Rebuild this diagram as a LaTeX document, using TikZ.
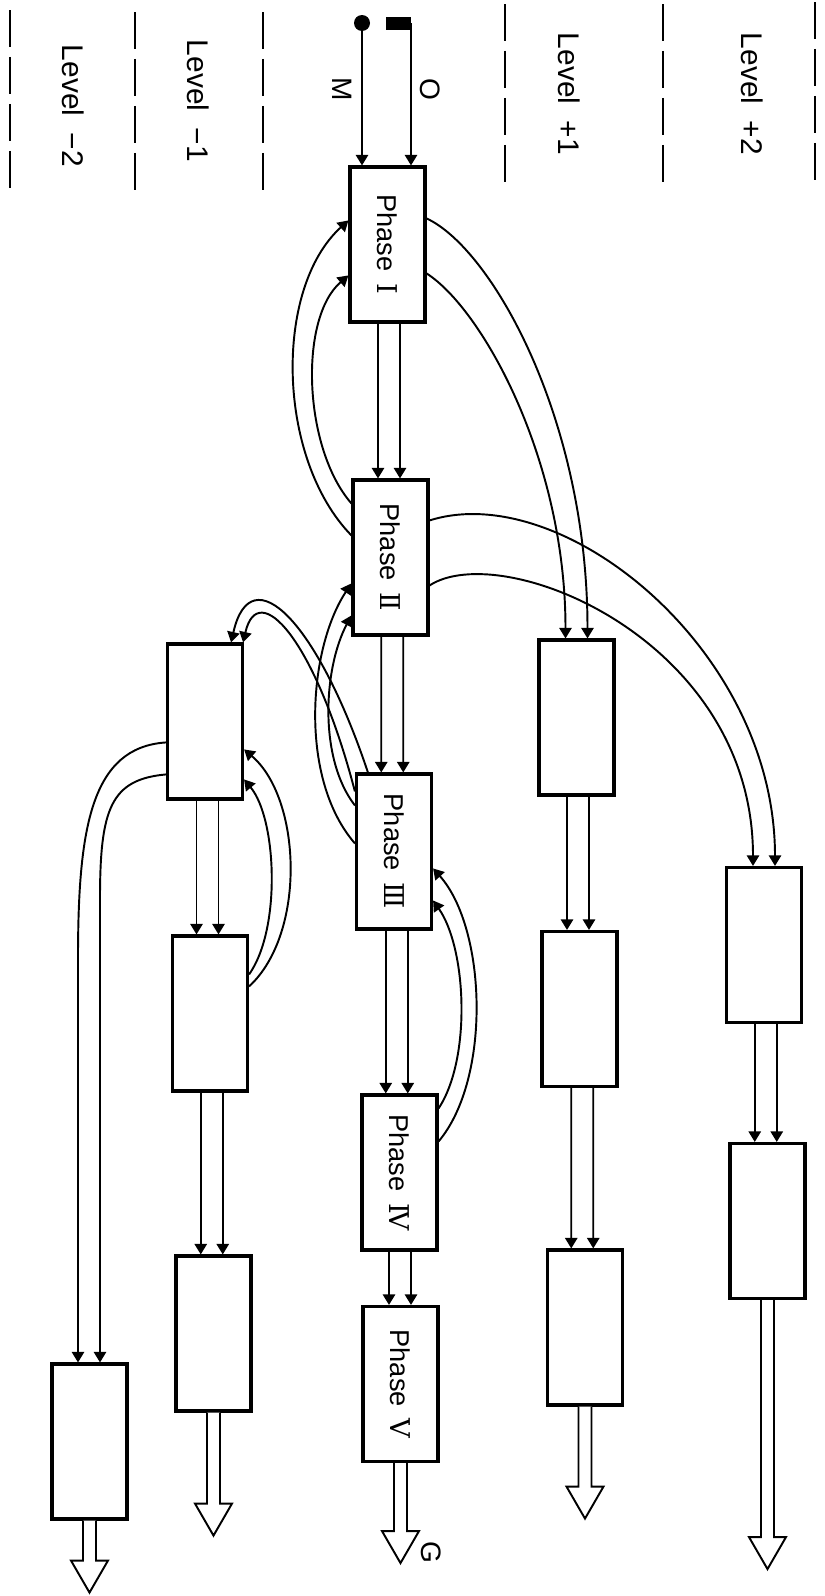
\documentclass[tikz,border=0pt]{standalone}
\usepackage{fontspec}
\setmainfont{Liberation Sans}
\newfontfamily\numfont{DejaVu Serif}
\usetikzlibrary{arrows.meta, calc}

\tikzset{
  phase/.style={draw, line width=1.8pt, fill=white, inner sep=0pt,
    minimum width=1.5cm, minimum height=3.1cm, font=\fontsize{15.5}{18}\selectfont},
  arr/.style={line width=1.1pt, -{Triangle[length=6pt,width=7pt]}},
  sep/.style={line width=1.2pt, dash pattern=on 0.74cm off 0.2cm},
  lvl/.style={rotate=-90, font=\fontsize{17}{20}\selectfont},
  lbl/.style={rotate=-90, font=\fontsize{16}{19}\selectfont},
  hollow/.style={line width=1.1pt, fill=white, line join=miter},
  pics/outflow/.style={code={
    \draw[hollow] (-6.5,0) -- (-6.5,#1) -- (-18.5,#1) -- (0,{#1+32})
      -- (18.5,#1) -- (6.5,#1) -- (6.5,0);
  }}
}

\begin{document}
\begin{tikzpicture}[x=0.02cm, y=-0.02cm]
\useasboundingbox (0,0) rectangle (825,1596);

% level separators
\draw[sep] (10,10) -- (10,192);
\draw[sep] (135,12) -- (135,192);
\draw[sep] (263,12) -- (263,192);
\draw[sep] (505,4) -- (505,190);
\draw[sep] (663,4) -- (663,190);
\draw[sep] (815,2) -- (815,186);

\node[lvl] (lvlmtwo) at (73,106) {Level\ \ −2};
\node[lvl] (lvlmone) at (198,101) {Level\ \ −1};
\node[lvl] (lvlpone) at (569,94) {Level\ \ +1};
\node[lvl] (lvlptwo) at (752,94) {Level\ \ +2};

%%%%%%%%%%%%%%%%%%%%%%%%%%%%%%%%%%%%%%%%
% level 0 : phases
\node[phase] (P1) at (387.5,244.5) {\rotatebox{-90}{Phase\hspace{0.24cm}{\numfont Ⅰ}}};
\node[phase] (P2) at (390.5,557.5) {\rotatebox{-90}{Phase\hspace{0.24cm}{\numfont Ⅱ}}};
\node[phase] (P3) at (394,851.5) {\rotatebox{-90}{Phase\hspace{0.24cm}{\numfont Ⅲ}}};
\node[phase] (P4) at (399.5,1172.5) {\rotatebox{-90}{Phase\hspace{0.24cm}{\numfont Ⅳ}}};
\node[phase] (P5) at (400.5,1384) {\rotatebox{-90}{Phase\hspace{0.24cm}{\numfont Ⅴ}}};

% level +1 / +2
\node[phase] (A1) at (576.5,717.5) {};
\node[phase] (A2) at (579.5,1009) {};
\node[phase] (A3) at (585,1327.5) {};
\node[phase] (B1) at (764,945) {};
\node[phase] (B2) at (767.5,1221) {};

% level -1 / -2
\node[phase] (C1) at (205,721.5) {};
\node[phase] (C2) at (210,1013.5) {};
\node[phase] (C3) at (213.5,1333.5) {};
\node[phase] (D1) at (89.5,1441.5) {};

%%%%%%%%%%%%%%%%%%%%%%%%%%%%%%%%%%%%%%%%
% inputs M and O
\coordinate (mIn) at (362,23);
\coordinate (oIn) at (411,23);
\fill (mIn) circle (0.16cm);
\fill ($(oIn)+(-25,-6)$) rectangle ($(oIn)+(0,7)$);
\draw[arr] (mIn) -- (mIn |- P1.north);
\draw[arr] (oIn) -- (oIn |- P1.north);
\node[lbl] (mlab) at (342,89) {M};
\node[lbl] (olab) at (430,89) {O};

% straight pairs
\draw[arr] ($(P1.south)+(-9.5,0)$) -- ($(P2.north)+(-12.5,0)$);
\draw[arr] ($(P1.south)+(12.5,0)$) -- ($(P2.north)+(9.5,0)$);
\draw[arr] ($(P2.south)+(-9.25,0)$) -- ($(P3.north)+(-12.75,0)$);
\draw[arr] ($(P2.south)+(12.75,0)$) -- ($(P3.north)+(9.25,0)$);
\draw[arr] ($(P3.south)+(-8.25,0)$) -- ($(P4.north)+(-13.75,0)$);
\draw[arr] ($(P3.south)+(13.75,0)$) -- ($(P4.north)+(8.25,0)$);
\draw[arr] ($(P4.south)+(-10.5,0)$) -- ($(P5.north)+(-11.5,0)$);
\draw[arr] ($(P4.south)+(11.5,0)$) -- ($(P5.north)+(10.5,0)$);

\draw[arr] ($(A1.south)+(-9.5,0)$) -- ($(A2.north)+(-12.5,0)$);
\draw[arr] ($(A1.south)+(12.5,0)$) -- ($(A2.north)+(9.5,0)$);
\draw[arr] ($(A2.south)+(-8.25,0)$) -- ($(A3.north)+(-13.75,0)$);
\draw[arr] ($(A2.south)+(13.75,0)$) -- ($(A3.north)+(8.25,0)$);
\draw[arr] ($(B1.south)+(-9.25,0)$) -- ($(B2.north)+(-12.75,0)$);
\draw[arr] ($(B1.south)+(12.75,0)$) -- ($(B2.north)+(9.25,0)$);

\draw[arr] ($(C1.south)+(-8.5,0)$) -- ($(C2.north)+(-13.5,0)$);
\draw[arr] ($(C1.south)+(13.5,0)$) -- ($(C2.north)+(8.5,0)$);
\draw[arr] ($(C2.south)+(-9.25,0)$) -- ($(C3.north)+(-12.75,0)$);
\draw[arr] ($(C2.south)+(12.75,0)$) -- ($(C3.north)+(9.25,0)$);

%%%%%%%%%%%%%%%%%%%%%%%%%%%%%%%%%%%%%%%%
% feedback and branch curves
\draw[arr] ($(P2.north west)+(0,57)$) .. controls +(-75,-77) and +(-75,68) .. ($(P1.north west)+(0,55)$);
\draw[arr] ($(P2.north west)+(0,25)$) .. controls +(-48,-55) and +(-50,43) .. ($(P1.north west)+(0,110)$);

\draw[arr] ($(P1.north east)+(0,53)$) .. controls +(65,30) and +(0,-220) .. ($(A1.north)+(11,0)$);
\draw[arr] ($(P1.north east)+(0,108)$) .. controls +(55,35) and +(0,-180) .. ($(A1.north)+(-11,0)$);

\draw[arr] ($(P2.north east)+(0,42)$) .. controls +(132,-42) and +(0,-217) .. ($(B1.north)+(11,0)$);
\draw[arr] ($(P2.north east)+(0,107)$) .. controls +(72,-47) and +(0,-227) .. ($(B1.north)+(-11,0)$);

\draw[arr] ($(P3.north west)+(0,71)$) .. controls +(-56.5,-65) and +(-43,65) .. ($(P2.north west)+(0,105)$);
\draw[arr] ($(P3.north west)+(0,33)$) .. controls +(-36.5,-47) and +(-28,53) .. ($(P2.north west)+(0,137)$);

\draw[arr] ($(P3.north west)+(13,0)$) .. controls +(-50,-150) and +(20,-88) .. ($(C1.north east)+(-13,0)$);
\draw[arr] ($(P3.north west)+(0,19)$) .. controls +(-40,-153) and +(15,-65) .. ($(C1.north east)+(-1,0)$);

\draw[arr] ($(C2.north east)+(0,52)$) .. controls +(57.5,-53) and +(57.5,49) .. ($(C1.north east)+(0,107)$);
\draw[arr] ($(C2.north east)+(0,40)$) .. controls +(32.5,-46) and +(32.5,39) .. ($(C1.north east)+(0,137)$);

\draw[arr] ($(P4.north east)+(0,48)$) .. controls +(53,-63) and +(53.5,60) .. ($(P3.north east)+(0,96)$);
\draw[arr] ($(P4.north east)+(0,15)$) .. controls +(33,-50) and +(33.5,48) .. ($(P3.north east)+(0,128)$);

\draw[arr] ($(C1.north west)+(0,100)$) .. controls +(-75,5) and +(0,-130) .. ($(D1.north)+(-11.5,-404)$) -- ($(D1.north)+(-11.5,0)$);
\draw[arr] ($(C1.north west)+(0,132)$) .. controls +(-55,5) and +(0,-90) .. ($(D1.north)+(10.5,-464)$) -- ($(D1.north)+(10.5,0)$);

%%%%%%%%%%%%%%%%%%%%%%%%%%%%%%%%%%%%%%%%
% outputs
\pic at (P5.south) {outflow=68};
\pic at (A3.south) {outflow=80};
\pic at (B2.south) {outflow=237};
\pic at (C3.south) {outflow=91};
\pic at (D1.south) {outflow=40};

\node[lbl] (glab) at (431,1552) {G};

\end{tikzpicture}
\end{document}
